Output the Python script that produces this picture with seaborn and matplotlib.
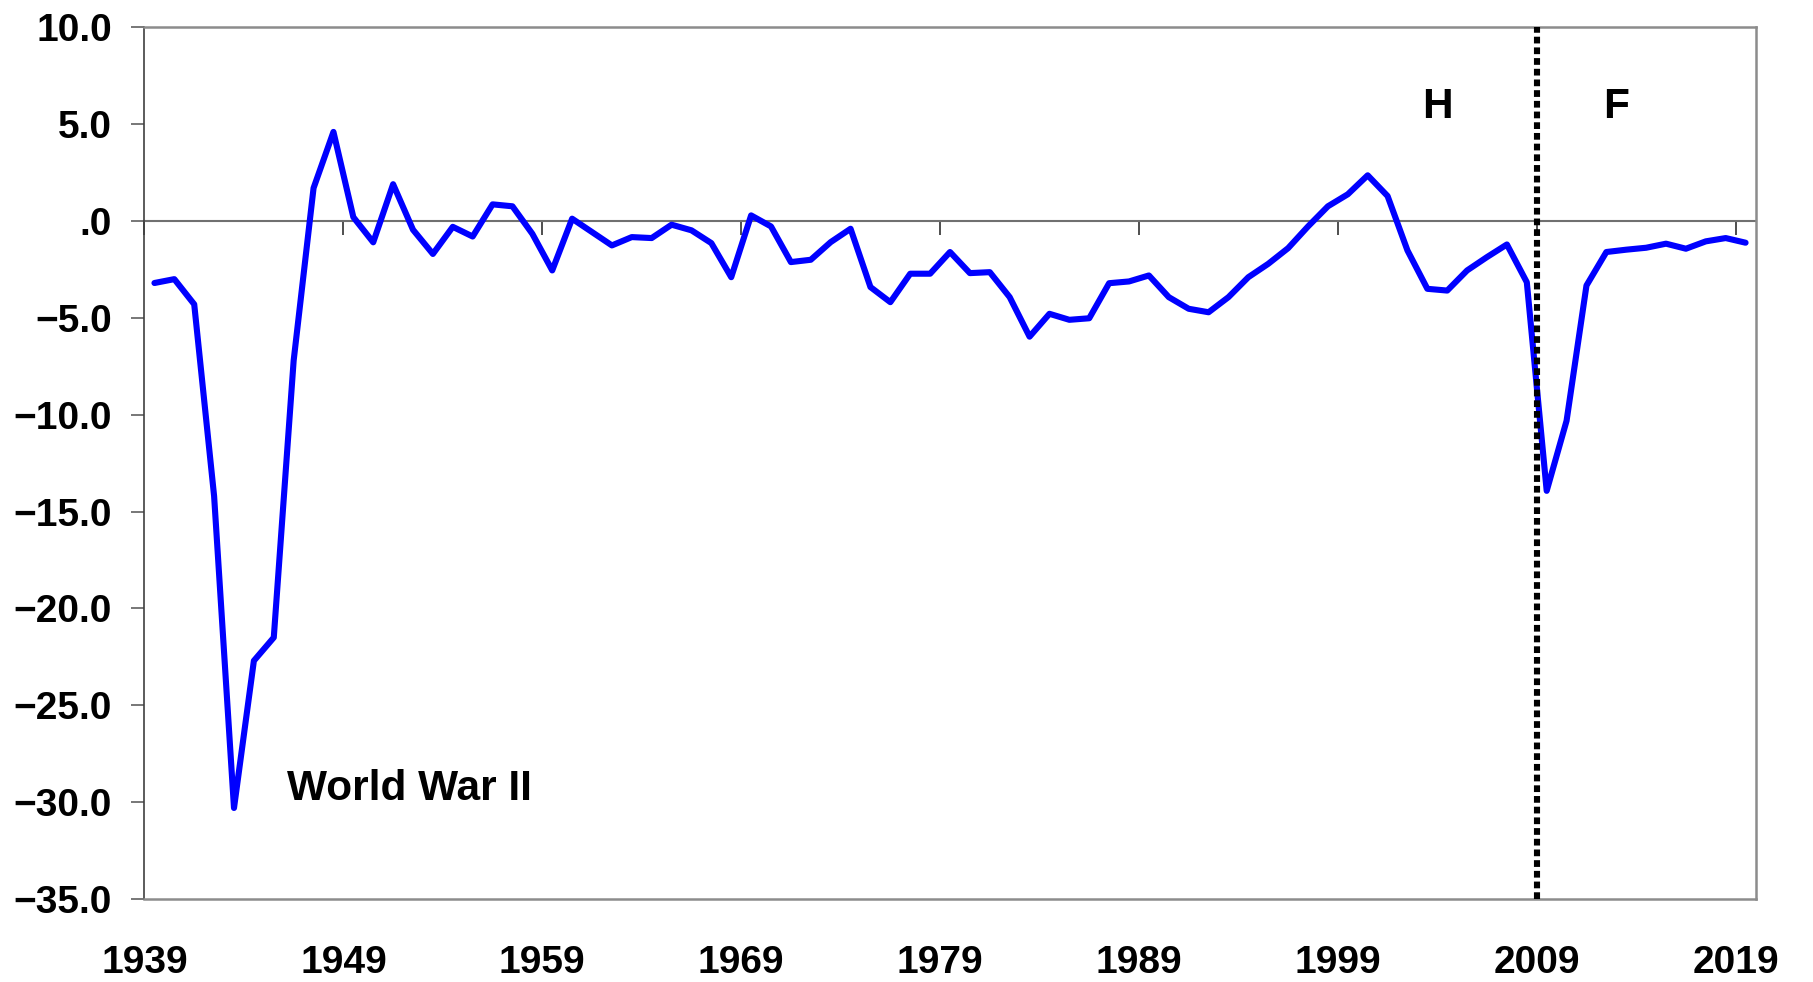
import numpy as np
import pandas as pd
import matplotlib
matplotlib.use('Agg')
import matplotlib.pyplot as plt
from matplotlib.ticker import FuncFormatter
import seaborn as sns

# ---- data ----
years = list(range(1939, 2020))
balance = [
    -3.2, -3.0, -4.3, -14.2, -30.3, -22.7, -21.5, -7.2, 1.7, 4.6,      # 1939-1948
    0.2, -1.1, 1.9, -0.45, -1.7, -0.3, -0.8, 0.86, 0.76, -0.66,        # 1949-1958
    -2.55, 0.12, -0.57, -1.26, -0.83, -0.88, -0.19, -0.48, -1.14, -2.9,  # 1959-1968
    0.29, -0.28, -2.12, -2.0, -1.09, -0.4, -3.41, -4.19, -2.72, -2.72,   # 1969-1978
    -1.6, -2.69, -2.64, -3.93, -5.97, -4.79, -5.1, -5.02, -3.21, -3.12,  # 1979-1988
    -2.81, -3.93, -4.53, -4.71, -3.93, -2.9, -2.21, -1.4, -0.28, 0.76,   # 1989-1998
    1.38, 2.36, 1.29, -1.52, -3.5, -3.59, -2.55, -1.86, -1.21, -3.16,    # 1999-2008
    -13.93, -10.31, -3.33, -1.6, -1.48, -1.38, -1.17, -1.43, -1.05, -0.88,  # 2009-2018
    -1.12,                                                              # 2019
]
tick_years = [1939, 1949, 1959, 1969, 1979, 1989, 1999, 2009, 2019]
y_ticks = [10, 5, 0, -5, -10, -15, -20, -25, -30, -35]
split_year = 2009

df = pd.DataFrame({'year': years, 'balance': balance})

# ---- style ----
sns.set_style('white')
plt.rcParams['font.family'] = ['Liberation Sans', 'DejaVu Sans']
plt.rcParams['font.weight'] = 'bold'
plt.rcParams['text.color'] = 'black'
plt.rcParams['xtick.color'] = 'black'
plt.rcParams['ytick.color'] = 'black'

fig = plt.figure(figsize=(18.13, 9.82), dpi=100)
ax = fig.add_axes([0.0797, 0.0845, 0.8886, 0.8877])

sns.lineplot(data=df, x='year', y='balance', color='#0000FF', linewidth=4.4,
             solid_capstyle='round', solid_joinstyle='round', ax=ax)
for ln in ax.get_lines():
    ln.set_linewidth(4.4)

# vertical dotted split line (history / forecast)
ax.axvline(split_year - 0.5, color='black', linewidth=4.4, linestyle=(0, (1.1, 0.65)), zorder=3)

ax.set_xlim(years[0] - 0.5, years[-1] + 0.5)
ax.set_ylim(min(y_ticks), max(y_ticks))

# x labels sit at category boundaries, at the bottom
ax.set_xticks([y - 0.5 for y in tick_years])
ax.set_xticklabels([str(y) for y in tick_years])
ax.tick_params(axis='x', length=0, pad=33, labelsize=28, labelcolor='black')

ax.set_yticks(y_ticks)
ax.yaxis.set_major_formatter(
    FuncFormatter(lambda v, p: '.0' if v == 0 else f'{v:.1f}'.replace('-', '\u2212')))
ax.tick_params(axis='y', direction='out', length=9.5, width=1.2, color='#606060',
               pad=14, labelsize=28, left=True, labelcolor='black')
for lab in ax.get_xticklabels() + ax.get_yticklabels():
    lab.set_fontweight('bold')

ax.set_xlabel('')
ax.set_ylabel('')

for side in ['top', 'right', 'bottom']:
    ax.spines[side].set_color('#8c8c8c')
    ax.spines[side].set_linewidth(1.8)
ax.spines['left'].set_color('#404040')
ax.spines['left'].set_linewidth(1.2)

# x axis crossing at zero, with tick marks pointing down
zero_loc = (0 - min(y_ticks)) / (max(y_ticks) - min(y_ticks))
sec = ax.secondary_xaxis(zero_loc)
sec.set_xticks([y - 0.5 for y in tick_years])
sec.set_xticklabels([''] * len(tick_years))
sec.tick_params(direction='in', length=10, width=1.2, color='#303030')
for s in sec.spines.values():
    s.set_color('#707070')
    s.set_linewidth(1.5)

# annotations
ax.text(1945.66, -29.3, 'World War II', fontsize=30.5, fontweight='bold',
        ha='left', va='center', color='black')
ax.text(2003.53, 5.9, 'H', fontsize=30.5, fontweight='bold', ha='center', va='center', color='black')
ax.text(2012.48, 5.9, 'F', fontsize=30.5, fontweight='bold', ha='center', va='center', color='black')

fig.savefig('out.png', dpi=100)
